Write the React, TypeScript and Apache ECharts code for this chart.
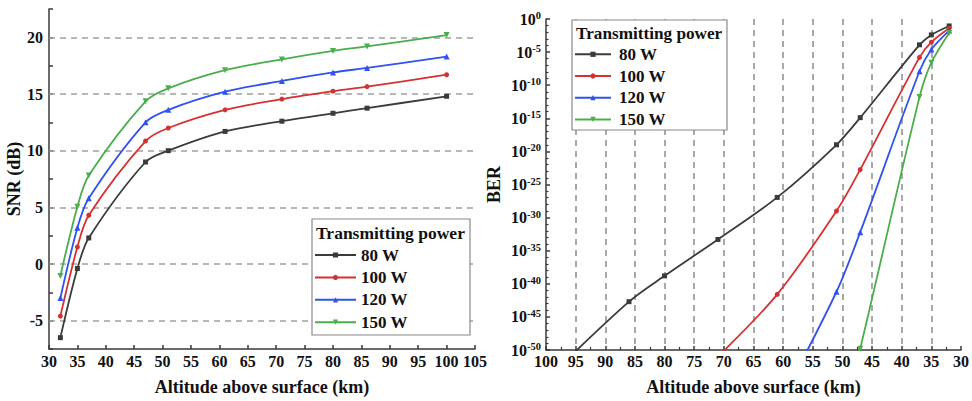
import React, { useEffect, useRef } from 'react';
import * as echarts from 'echarts';

// ---------- data ----------
const seriesNames = ['80 W', '100 W', '120 W', '150 W'];
const altitudes = [32, 35, 37, 47, 51, 61, 71, 80, 86, 100];

// SNR (dB)
const snr80 = [-6.5, -0.4, 2.3, 9.0, 10.0, 11.7, 12.6, 13.3, 13.75, 14.8];
const snr100 = [-4.6, 1.5, 4.3, 10.85, 12.0, 13.6, 14.55, 15.25, 15.65, 16.7];
const snr120 = [-3.0, 3.2, 5.8, 12.5, 13.6, 15.2, 16.15, 16.9, 17.3, 18.3];
const snr150 = [-1.05, 5.05, 7.8, 14.35, 15.5, 17.1, 18.05, 18.8, 19.2, 20.2];

// BER, as log10(BER)
const berAlt80 = [32, 35, 37, 47, 51, 61, 71, 80, 86, 100];
const berLog80 = [-1.05, -2.4, -3.9, -14.9, -19.0, -26.95, -33.3, -38.8, -42.7, -54.5];
const berAlt100 = [32, 35, 37, 47, 51, 61, 71];
const berLog100 = [-1.4, -3.5, -5.8, -22.75, -29.0, -41.6, -51.0];
const berAlt120 = [32, 35, 37, 47, 51, 61];
const berLog120 = [-1.75, -4.6, -7.9, -32.2, -41.2, -58.8];
const berAlt150 = [32, 35, 37, 47, 51];
const berLog150 = [-2.1, -6.6, -11.8, -49.8, -64];

const snrGridValues = [-5, 0, 5, 10, 15, 20];

const colors = ['#3b3b3b', '#d63131', '#2f52f0', '#4cad4c'];
const symbols = ['rect', 'circle', 'triangle', 'triangle'];
const symbolRotates = [0, 0, 0, 180];
const symbolSizes = [5, 5, 6, 6];

const FONT = '"Liberation Serif", "Times New Roman", serif';

export default function App() {
  const ref = useRef<HTMLDivElement>(null);

  useEffect(() => {
    document.body.style.margin = '0';
    if (!ref.current) return;
    const chart = echarts.init(ref.current, undefined, { renderer: 'svg' });

    const snrData = [snr80, snr100, snr120, snr150];
    const berAlts = [berAlt80, berAlt100, berAlt120, berAlt150];
    const berLogs = [berLog80, berLog100, berLog120, berLog150];

    const axisLineStyle = { color: '#3a3a3a', width: 1.5 };
    const labelStyle = { fontFamily: FONT, fontWeight: 'bold' as const, fontSize: 16, color: '#111' };
    const nameStyle = { fontFamily: FONT, fontWeight: 'bold' as const, fontSize: 18, color: '#111' };

    const makeSeries = (i: number, xIdx: number, data: number[][]) => ({
      name: seriesNames[i],
      type: 'line',
      xAxisIndex: xIdx,
      yAxisIndex: xIdx,
      data,
      smooth: 0.3,
      symbol: symbols[i],
      symbolRotate: symbolRotates[i],
      symbolSize: symbolSizes[i],
      showAllSymbol: true,
      clip: true,
      lineStyle: { color: colors[i], width: 1.8 },
      itemStyle: { color: colors[i] },
      z: 3,
    });

    const leftSeries = seriesNames.map((_, i) =>
      makeSeries(i, 0, altitudes.map((a, j) => [a, snrData[i][j]]))
    );
    const rightSeries = seriesNames.map((_, i) =>
      makeSeries(i, 1, berAlts[i].map((a, j) => [a, berLogs[i][j]]))
    );

    const gridSeries = {
      name: 'snr-grid',
      type: 'line',
      xAxisIndex: 0,
      yAxisIndex: 0,
      data: [[30, 0]],
      symbol: 'none',
      lineStyle: { width: 0, opacity: 0 },
      silent: true,
      z: 1,
      markLine: {
        silent: true,
        z: 1,
        symbol: ['none', 'none'],
        label: { show: false },
        lineStyle: { color: '#a0a0a0', type: [6, 5], width: 1.5 },
        emphasis: { disabled: true },
        data: snrGridValues.map((v) => ({ yAxis: v })),
      },
    };

    const legendText = { fontFamily: FONT, fontWeight: 'bold' as const, fontSize: 17, color: '#111' };

    const option = {
      animation: false,
      backgroundColor: '#fff',
      grid: [
        { left: 49, top: 9, width: 426, height: 342, containLabel: false },
        { left: 546, top: 19, width: 416, height: 334, containLabel: false },
      ],
      xAxis: [
        {
          type: 'value',
          gridIndex: 0,
          min: 30,
          max: 105,
          interval: 5,
          name: 'Altitude above surface (km)',
          nameLocation: 'middle',
          nameGap: 29,
          nameTextStyle: nameStyle,
          axisLine: { show: true, onZero: false, lineStyle: axisLineStyle },
          axisTick: { show: true, inside: true, length: 4, lineStyle: axisLineStyle },
          axisLabel: { ...labelStyle, margin: 4 },
          splitLine: { show: false },
        },
        {
          type: 'value',
          gridIndex: 1,
          min: 30,
          max: 100,
          interval: 5,
          inverse: true,
          name: 'Altitude above surface (km)',
          nameLocation: 'middle',
          nameGap: 28,
          nameTextStyle: nameStyle,
          axisLine: { show: true, onZero: false, lineStyle: axisLineStyle },
          axisTick: { show: true, inside: true, length: 4, lineStyle: axisLineStyle },
          minorTick: { show: true, splitNumber: 2, length: 3, lineStyle: { color: '#3a3a3a', width: 1.2 } },
          axisLabel: { ...labelStyle, margin: 3 },
          splitLine: {
            show: true,
            showMinLine: false,
            showMaxLine: false,
            lineStyle: { color: '#8c8c8c', type: [6, 5], width: 1.5 },
          },
        },
      ],
      yAxis: [
        {
          type: 'value',
          gridIndex: 0,
          min: -7.5,
          max: 22.5,
          interval: 2.5,
          name: 'SNR (dB)',
          nameLocation: 'middle',
          nameGap: 24,
          nameTextStyle: nameStyle,
          axisLine: { show: true, onZero: false, lineStyle: axisLineStyle },
          axisTick: { show: true, inside: true, length: 4, lineStyle: axisLineStyle },
          axisLabel: {
            ...labelStyle,
            margin: 6,
            formatter: (v: number) => (v % 5 === 0 ? String(v) : ''),
          },
          splitLine: { show: false },
        },
        {
          type: 'value',
          gridIndex: 1,
          min: -50,
          max: 0,
          interval: 5,
          name: 'BER',
          nameLocation: 'middle',
          nameGap: 43,
          nameTextStyle: nameStyle,
          axisLine: { show: true, onZero: false, lineStyle: axisLineStyle },
          axisTick: { show: true, inside: true, length: 4, lineStyle: axisLineStyle },
          minorTick: { show: true, splitNumber: 5, length: 2.5, lineStyle: { color: '#3a3a3a', width: 1.2 } },
          axisLabel: {
            margin: 5,
            formatter: (v: number) => `{b|10}{s|${v}}`,
            rich: {
              b: { fontFamily: FONT, fontWeight: 'bold', fontSize: 16, lineHeight: 18, color: '#111' },
              s: {
                fontFamily: FONT,
                fontWeight: 'bold',
                fontSize: 10.5,
                lineHeight: 8,
                verticalAlign: 'top',
                color: '#111',
              },
            },
          },
          splitLine: { show: false },
        },
      ],
      legend: [
        {
          data: seriesNames,
          orient: 'vertical',
          left: 314,
          top: 246.5,
          padding: 0,
          itemWidth: 41,
          itemHeight: 6.5,
          itemGap: 5.4,
          selectedMode: false,
          textStyle: legendText,
          z: 12,
        },
        {
          data: seriesNames,
          orient: 'vertical',
          left: 574,
          top: 45.8,
          padding: 0,
          itemWidth: 36,
          itemHeight: 6.5,
          itemGap: 4.7,
          selectedMode: false,
          textStyle: { ...legendText, padding: [0, 0, 0, 3] },
          z: 12,
        },
      ],
      graphic: [
        {
          type: 'rect',
          z: 10,
          shape: { x: 312, y: 219, width: 158, height: 116 },
          style: { fill: '#fff', stroke: '#8a8a8a', lineWidth: 1.2 },
          silent: true,
        },
        {
          type: 'text',
          z: 11,
          x: 316,
          y: 233,
          style: {
            text: 'Transmitting power',
            fontFamily: FONT,
            fontWeight: 'bold',
            fontSize: 17.5,
            fill: '#111',
            verticalAlign: 'middle',
          },
          silent: true,
        },
        {
          type: 'rect',
          z: 10,
          shape: { x: 572, y: 20, width: 155, height: 110 },
          style: { fill: '#fff', stroke: '#8a8a8a', lineWidth: 1.2 },
          silent: true,
        },
        {
          type: 'text',
          z: 11,
          x: 576,
          y: 33,
          style: {
            text: 'Transmitting power',
            fontFamily: FONT,
            fontWeight: 'bold',
            fontSize: 17.2,
            fill: '#111',
            verticalAlign: 'middle',
          },
          silent: true,
        },
      ],
      series: [gridSeries, ...leftSeries, ...rightSeries],
    };

    chart.setOption(option as any);
    return () => {
      chart.dispose();
    };
  }, []);

  return <div ref={ref} style={{ width: 972, height: 401 }} />;
}
